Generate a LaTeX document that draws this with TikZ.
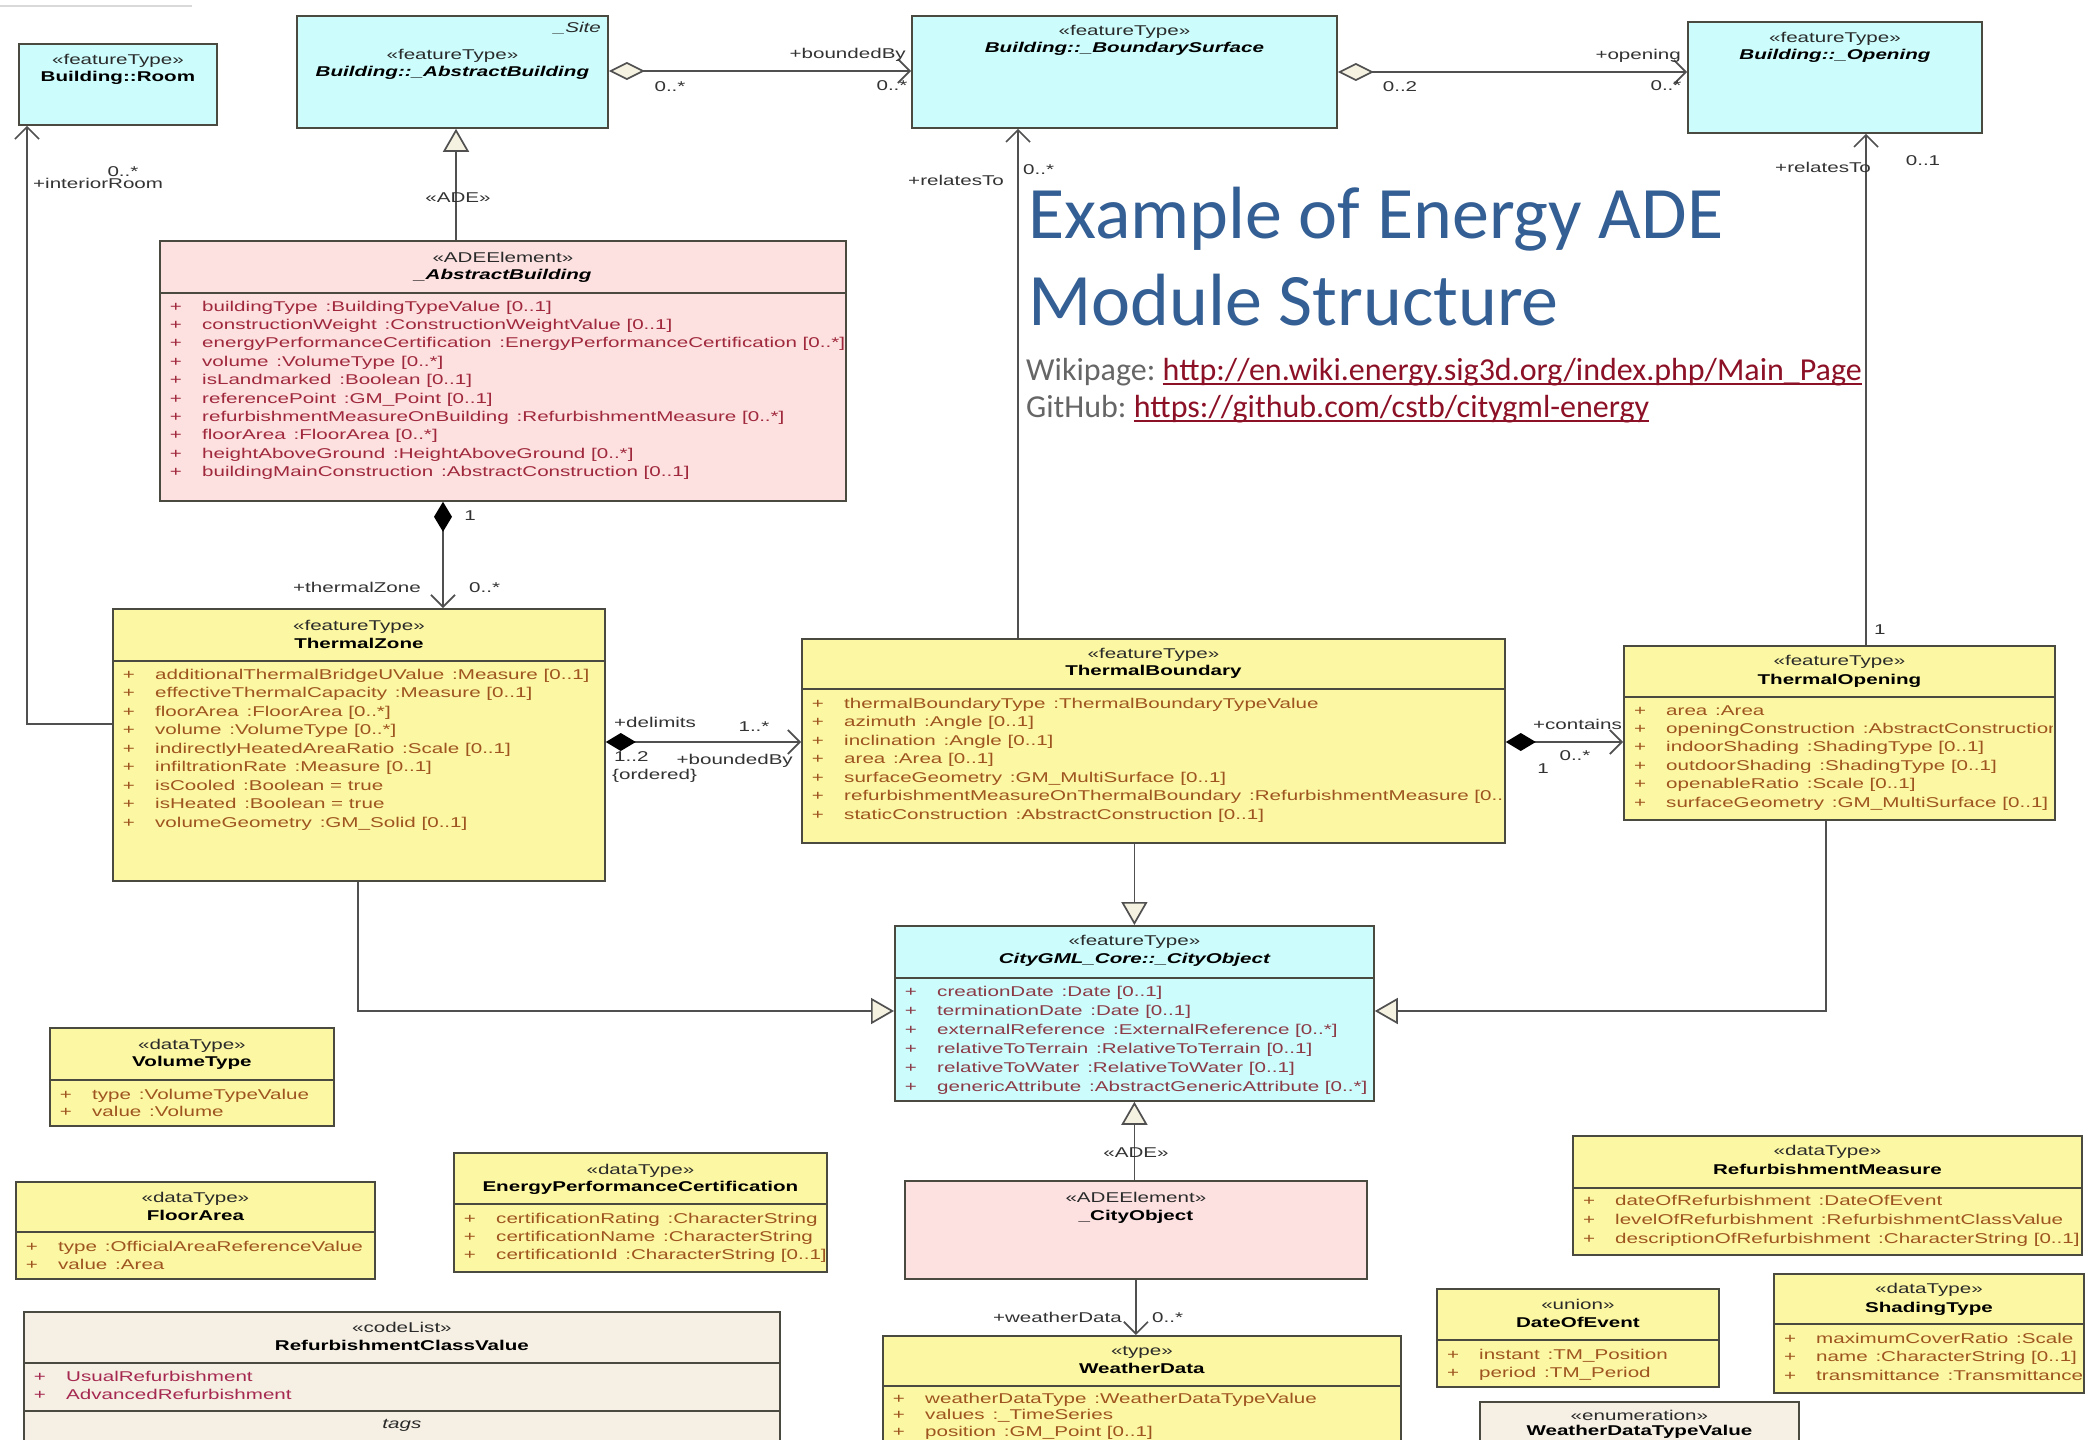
\documentclass[tikz,border=0pt]{standalone}
\usepackage{fontspec}
\usetikzlibrary{arrows.meta}

\newfontfamily\umlfont[FakeStretch=1.45]{Liberation Sans}
\newfontfamily\slidefont{Carlito}
\newcommand\umlsize{\fontsize{14.2}{17}\selectfont}
\newcommand\ofty{\hspace*{0.55em}:}

\definecolor{cyanfill}{HTML}{CCFCFC}
\definecolor{yellowfill}{HTML}{FCF7A2}
\definecolor{pinkfill}{HTML}{FCE1E0}
\definecolor{beigefill}{HTML}{F6F0E4}
\definecolor{boxline}{HTML}{4A4A40}
\definecolor{connline}{HTML}{505050}
\definecolor{tipfill}{HTML}{F6F2E2}
\definecolor{yellowtext}{HTML}{9E5420}
\definecolor{pinktext}{HTML}{A0283C}
\definecolor{cyantext}{HTML}{8C3A46}
\definecolor{beigetext}{HTML}{A52850}
\definecolor{stereo}{HTML}{2A2A2A}
\definecolor{labtext}{HTML}{333333}
\definecolor{titleblue}{HTML}{345F94}
\definecolor{linkred}{HTML}{8C1026}
\definecolor{wikigray}{HTML}{666666}

\tikzset{
  cls/.style={draw=boxline, line width=1.8pt, inner sep=0pt, anchor=north west},
  hdr/.style={font=\umlfont\umlsize, text=stereo, inner sep=0pt, anchor=mid},
  nm/.style={font=\umlfont\umlsize\bfseries, text=black, inner sep=0pt, anchor=mid},
  plus/.style={font=\umlfont\umlsize, inner sep=0pt, anchor=mid},
  attr/.style={font=\umlfont\umlsize, inner sep=0pt, anchor=mid west},
  lbl/.style={font=\umlfont\umlsize, text=labtext, inner sep=0pt, anchor=mid},
  sepline/.style={draw=boxline, line width=1.6pt},
  conn/.style={draw=connline, line width=1.7pt},
  navarrow/.style={-{Straight Barb[length=12pt,width=24pt]}},
  genarrow/.style={-{Triangle[length=23pt,width=26pt,fill=tipfill]}},
  aggarrow/.style={{Diamond[length=36pt,width=18pt,fill=tipfill]}-{Straight Barb[length=12pt,width=24pt]}},
  comparrow/.style={{Diamond[length=30pt,width=18pt,color=black]}-{Straight Barb[length=12pt,width=24pt]}},
  slide/.style={anchor=base west, inner sep=0pt},
}

% class box: name, x1, y1, x2, y2, fill
\newcommand\umlclass[6]{\node[cls, fill=#6, minimum width={#4-#2}, minimum height={#5-#3}] (#1) at (#2,#3) {};}
% header: box, y of stereotype, y of name, stereotype, name
\newcommand\umlhead[5]{%
  \node[hdr] (#1-st) at (#1.north |- 0,#2) {«#4»};
  \node[nm] (#1-nm) at (#1.north |- 0,#3) {#5};}
% compartment line
\newcommand\umlsep[2]{\draw[sepline] (#1.west |- 0,#2) -- (#1.east |- 0,#2);}
% attribute rows: box, x1, x2, first y, row step, colour, list
\newcommand\umlattrs[7]{%
  \begin{scope}
    \clip (#2,0) rectangle ({#3-1.5},1440);
    \foreach \t [count=\i from 0] in {#7} {
      \node[plus, text=#6] (#1-p\i) at ({#2+17},{#4+\i*#5}) {+};
      \node[attr, text=#6] (#1-a\i) at ({#2+43},{#4+\i*#5}) {\t};
    }
  \end{scope}}

\begin{document}
\begin{tikzpicture}[x=1pt,y=-1pt]
\fill[white] (0,0) rectangle (2086,1440);
\path[use as bounding box] (0,0) rectangle (2086,1440);

\draw[gray!30, line width=2pt] (0,6) -- (192,6);

% ---------- classes ----------
\umlclass{room}{18}{43}{216}{124}{cyanfill}
\umlhead{room}{62}{79}{featureType}{Building::Room}

\umlclass{bab}{296}{15}{607}{127}{cyanfill}
\umlhead{bab}{57}{74}{featureType}{\itshape Building::\_AbstractBuilding}
\node[hdr, anchor=mid east, font=\umlfont\umlsize\itshape] (bab-site) at (601,30) {\_Site};

\umlclass{bbs}{911}{15}{1336}{127}{cyanfill}
\umlhead{bbs}{33}{50}{featureType}{\itshape Building::\_BoundarySurface}

\umlclass{bop}{1687}{21}{1981}{132}{cyanfill}
\umlhead{bop}{40}{57}{featureType}{\itshape Building::\_Opening}

\umlclass{aab}{159}{240}{845}{500}{pinkfill}
\umlhead{aab}{260}{277}{ADEElement}{\itshape \_AbstractBuilding}
\umlsep{aab}{293}
\umlattrs{aab}{159}{845}{309}{18.4}{pinktext}{%
  buildingType\ofty BuildingTypeValue [0..1],
  constructionWeight\ofty ConstructionWeightValue [0..1],
  energyPerformanceCertification\ofty EnergyPerformanceCertification [0..*],
  volume\ofty VolumeType [0..*],
  isLandmarked\ofty Boolean [0..1],
  referencePoint\ofty GM\_Point [0..1],
  refurbishmentMeasureOnBuilding\ofty RefurbishmentMeasure [0..*],
  floorArea\ofty FloorArea [0..*],
  heightAboveGround\ofty HeightAboveGround [0..*],
  buildingMainConstruction\ofty AbstractConstruction [0..1]}

\umlclass{tz}{112}{608}{604}{880}{yellowfill}
\umlhead{tz}{628}{646}{featureType}{ThermalZone}
\umlsep{tz}{661}
\umlattrs{tz}{112}{604}{677}{18.5}{yellowtext}{%
  additionalThermalBridgeUValue\ofty Measure [0..1],
  effectiveThermalCapacity\ofty Measure [0..1],
  floorArea\ofty FloorArea [0..*],
  volume\ofty VolumeType [0..*],
  indirectlyHeatedAreaRatio\ofty Scale [0..1],
  infiltrationRate\ofty Measure [0..1],
  isCooled\ofty Boolean = true,
  isHeated\ofty Boolean = true,
  volumeGeometry\ofty GM\_Solid [0..1]}

\umlclass{tb}{801}{638}{1504}{842}{yellowfill}
\umlhead{tb}{656}{673}{featureType}{ThermalBoundary}
\umlsep{tb}{689}
\umlattrs{tb}{801}{1504}{706}{18.5}{yellowtext}{%
  thermalBoundaryType\ofty ThermalBoundaryTypeValue,
  azimuth\ofty Angle [0..1],
  inclination\ofty Angle [0..1],
  area\ofty Area [0..1],
  surfaceGeometry\ofty GM\_MultiSurface [0..1],
  refurbishmentMeasureOnThermalBoundary\ofty RefurbishmentMeasure [0..*],
  staticConstruction\ofty AbstractConstruction [0..1]}

\umlclass{to}{1623}{645}{2054}{819}{yellowfill}
\umlhead{to}{663}{682}{featureType}{ThermalOpening}
\umlsep{to}{697}
\umlattrs{to}{1623}{2054}{713}{18.4}{yellowtext}{%
  area\ofty Area,
  openingConstruction\ofty AbstractConstruction,
  indoorShading\ofty ShadingType [0..1],
  outdoorShading\ofty ShadingType [0..1],
  openableRatio\ofty Scale [0..1],
  surfaceGeometry\ofty GM\_MultiSurface [0..1]}

\umlclass{co}{894}{925}{1373}{1100}{cyanfill}
\umlhead{co}{943}{961}{featureType}{\itshape CityGML\_Core::\_CityObject}
\umlsep{co}{978}
\umlattrs{co}{894}{1373}{994}{19}{cyantext}{%
  creationDate\ofty Date [0..1],
  terminationDate\ofty Date [0..1],
  externalReference\ofty ExternalReference [0..*],
  relativeToTerrain\ofty RelativeToTerrain [0..1],
  relativeToWater\ofty RelativeToWater [0..1],
  genericAttribute\ofty AbstractGenericAttribute [0..*]}

\umlclass{aco}{904}{1180}{1366}{1278}{pinkfill}
\umlhead{aco}{1200}{1218}{ADEElement}{\_CityObject}

\umlclass{wd}{882}{1335}{1400}{1460}{yellowfill}
\umlhead{wd}{1353}{1371}{type}{WeatherData}
\umlsep{wd}{1386}
\umlattrs{wd}{882}{1400}{1401}{16.5}{yellowtext}{%
  weatherDataType\ofty WeatherDataTypeValue,
  values\ofty \_TimeSeries,
  position\ofty GM\_Point [0..1]}

\umlclass{vt}{49}{1027}{333}{1125}{yellowfill}
\umlhead{vt}{1047}{1064}{dataType}{VolumeType}
\umlsep{vt}{1080}
\umlattrs{vt}{49}{333}{1097}{17.5}{yellowtext}{%
  type\ofty VolumeTypeValue,
  value\ofty Volume}

\umlclass{fa}{15}{1181}{374}{1278}{yellowfill}
\umlhead{fa}{1200}{1218}{dataType}{FloorArea}
\umlsep{fa}{1232}
\umlattrs{fa}{15}{374}{1249}{18}{yellowtext}{%
  type\ofty OfficialAreaReferenceValue,
  value\ofty Area}

\umlclass{epc}{453}{1152}{826}{1271}{yellowfill}
\umlhead{epc}{1172}{1189}{dataType}{EnergyPerformanceCertification}
\umlsep{epc}{1204}
\umlattrs{epc}{453}{826}{1221}{18}{yellowtext}{%
  certificationRating\ofty CharacterString,
  certificationName\ofty CharacterString,
  certificationId\ofty CharacterString [0..1]}

\umlclass{rcv}{23}{1311}{779}{1460}{beigefill}
\umlhead{rcv}{1330}{1348}{codeList}{RefurbishmentClassValue}
\umlsep{rcv}{1363}
\umlattrs{rcv}{23}{779}{1379}{18}{beigetext}{%
  UsualRefurbishment,
  AdvancedRefurbishment}
\umlsep{rcv}{1411}
\node[hdr, font=\umlfont\umlsize\itshape] (rcv-tags) at (rcv.north |- 0,1426) {tags};

\umlclass{rm}{1572}{1135}{2081}{1254}{yellowfill}
\umlhead{rm}{1153}{1172}{dataType}{RefurbishmentMeasure}
\umlsep{rm}{1188}
\umlattrs{rm}{1572}{2081}{1203}{19}{yellowtext}{%
  dateOfRefurbishment\ofty DateOfEvent,
  levelOfRefurbishment\ofty RefurbishmentClassValue,
  descriptionOfRefurbishment\ofty CharacterString [0..1]}

\umlclass{doe}{1436}{1288}{1718}{1386}{yellowfill}
\umlhead{doe}{1307}{1325}{union}{DateOfEvent}
\umlsep{doe}{1340}
\umlattrs{doe}{1436}{1718}{1357}{18}{yellowtext}{%
  instant\ofty TM\_Position,
  period\ofty TM\_Period}

\umlclass{st}{1773}{1273}{2083}{1392}{yellowfill}
\umlhead{st}{1291}{1310}{dataType}{ShadingType}
\umlsep{st}{1324}
\umlattrs{st}{1773}{2083}{1341}{18.5}{yellowtext}{%
  maximumCoverRatio\ofty Scale,
  name\ofty CharacterString [0..1],
  transmittance\ofty Transmittance}

\umlclass{wdtv}{1479}{1401}{1798}{1460}{beigefill}
\umlhead{wdtv}{1418}{1433}{enumeration}{WeatherDataTypeValue}

% ---------- connectors ----------
\draw[conn, navarrow] (tz.west |- 0,724) -| (room.south -| 27,0);
\draw[conn, aggarrow] (bab.east |- 0,71) -- (bbs.west |- 0,71);
\draw[conn, aggarrow] (bbs.east |- 0,72) -- (bop.west |- 0,72);
\draw[conn, genarrow] (aab.north -| 456,0) -- (bab.south -| 456,0);
\draw[conn, comparrow] (aab.south -| 443,0) -- (tz.north -| 443,0);
\draw[conn, comparrow] (tz.east |- 0,742) -- (tb.west |- 0,742);
\draw[conn, navarrow] (tb.north -| 1018,0) -- (bbs.south -| 1018,0);
\draw[conn, comparrow] (tb.east |- 0,742) -- (to.west |- 0,742);
\draw[conn, navarrow] (to.north -| 1866,0) -- (bop.south -| 1866,0);
\draw[conn, genarrow] (tb.south -| co.north) -- (co.north);
\draw[conn, genarrow] (tz.south -| 358,0) |- (co.west |- 0,1011);
\draw[conn, genarrow] (to.south -| 1826,0) |- (co.east |- 0,1011);
\draw[conn, genarrow] (aco.north -| co.south) -- (co.south);
\draw[conn, navarrow] (aco.south) -- (wd.north -| aco.south);

% ---------- role names and multiplicities ----------
\node[lbl] (l-room-m) at (123,174) {0..*};
\node[lbl, anchor=mid west] (l-room-r) at (33,186) {+interiorRoom};
\node[lbl] (l-bb-m1) at (670,89) {0..*};
\node[lbl, anchor=mid east] (l-bb-r) at (906,56) {+boundedBy};
\node[lbl] (l-bb-m2) at (892,88) {0..*};
\node[lbl] (l-op-m1) at (1400,89) {0..2};
\node[lbl, anchor=mid east] (l-op-r) at (1681,57) {+opening};
\node[lbl] (l-op-m2) at (1666,88) {0..*};
\node[lbl] (l-ade1) at (458,200) {«ADE»};
\node[lbl] (l-tz-m1) at (470,518) {1};
\node[lbl, anchor=mid east] (l-tz-r) at (421,590) {+thermalZone};
\node[lbl, anchor=mid west] (l-tz-m2) at (469,590) {0..*};
\node[lbl, anchor=mid west] (l-dl-r) at (614,725) {+delimits};
\node[lbl] (l-dl-m2) at (754,729) {1..*};
\node[lbl, anchor=mid west] (l-dl-m1) at (614,759) {1..2};
\node[lbl, anchor=mid west] (l-dl-o) at (612,777) {\{ordered\}};
\node[lbl, anchor=mid east] (l-dl-r2) at (793,762) {+boundedBy};
\node[lbl, anchor=mid east] (l-rt1-r) at (1004,183) {+relatesTo};
\node[lbl, anchor=mid west] (l-rt1-m) at (1023,172) {0..*};
\node[lbl, anchor=mid east] (l-ct-r) at (1622,727) {+contains};
\node[lbl] (l-ct-m1) at (1543,771) {1};
\node[lbl] (l-ct-m2) at (1575,758) {0..*};
\node[lbl, anchor=mid east] (l-rt2-r) at (1871,170) {+relatesTo};
\node[lbl] (l-rt2-m2) at (1923,163) {0..1};
\node[lbl, anchor=mid west] (l-rt2-m1) at (1874,632) {1};
\node[lbl] (l-ade2) at (1136,1155) {«ADE»};
\node[lbl, anchor=mid east] (l-wd-r) at (1122,1320) {+weatherData};
\node[lbl, anchor=mid west] (l-wd-m) at (1152,1320) {0..*};

% ---------- heading and links ----------
\node[slide, font=\slidefont\fontsize{74}{87}\selectfont, text=titleblue] (title1) at (1028,238) {Example of Energy ADE};
\node[slide, font=\slidefont\fontsize{74}{87}\selectfont, text=titleblue] (title2) at (1028,325) {Module Structure};
\node[slide, font=\slidefont\fontsize{32}{40}\selectfont, text=wikigray] (wiki) at (1026,380) {Wikipage:};
\node[slide, font=\slidefont\fontsize{32}{40}\selectfont, text=linkred] (wikiurl) at ([xshift=7pt]wiki.base east) {http://en.wiki.energy.sig3d.org/index.php/Main\_Page};
\draw[linkred, line width=1.6pt] ([yshift=-4pt]wikiurl.base west) -- ([yshift=-4pt]wikiurl.base east);
\node[slide, font=\slidefont\fontsize{32}{40}\selectfont, text=wikigray] (git) at (1026,417) {GitHub:};
\node[slide, font=\slidefont\fontsize{32}{40}\selectfont, text=linkred] (giturl) at ([xshift=7pt]git.base east) {https://github.com/cstb/citygml-energy};
\draw[linkred, line width=1.6pt] ([yshift=-4pt]giturl.base west) -- ([yshift=-4pt]giturl.base east);
\end{tikzpicture}
\end{document}
